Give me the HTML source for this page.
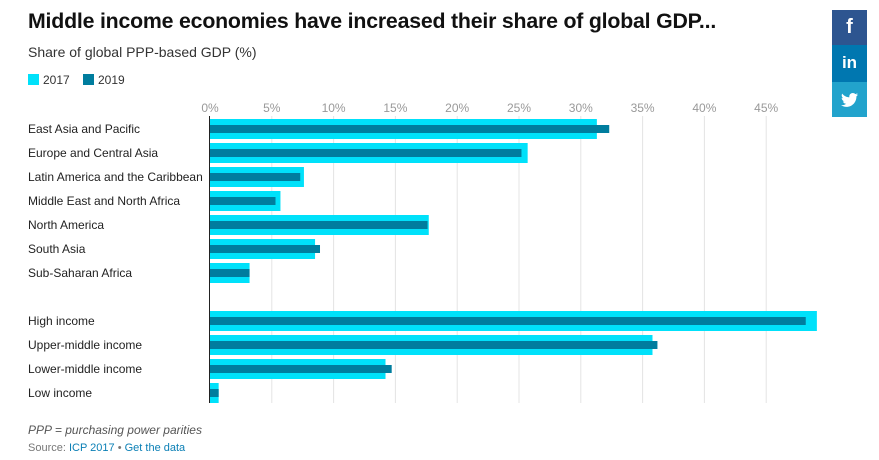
<!DOCTYPE html>
<html><head><meta charset="utf-8"><style>
body{margin:0;width:879px;height:460px;background:#fff;font-family:"Liberation Sans",Arial,sans-serif;overflow:hidden;position:relative}
.t{position:absolute;white-space:nowrap}
</style></head><body>
<div class="t" style="left:28px;top:9px;font-size:21.3px;font-weight:bold;color:#111;letter-spacing:-0.2px">Middle income economies have increased their share of global GDP...</div>
<div class="t" style="left:28px;top:44px;font-size:14px;color:#333">Share of global PPP-based GDP (%)</div>
<div class="t" style="left:28px;top:73px;font-size:12px;color:#333"><span style="display:inline-block;width:11px;height:11px;background:#00e1fa;vertical-align:-1px;margin-right:4px"></span>2017</div>
<div class="t" style="left:83px;top:73px;font-size:12px;color:#333"><span style="display:inline-block;width:11px;height:11px;background:#007d9e;vertical-align:-1px;margin-right:4px"></span>2019</div>
<svg id="c" width="879" height="460" style="position:absolute;left:0;top:0"></svg>
<div class="t" style="left:28px;top:423px;font-size:12px;font-style:italic;color:#555">PPP = purchasing power parities</div>
<div class="t" style="left:28px;top:442px;font-size:11px;color:#777">Source: <span style="color:#0a7fb5">ICP 2017</span> • <span style="color:#0a7fb5">Get the data</span></div>
<div style="position:absolute;left:832px;top:10px;width:35px;height:35px;background:#2d5590;color:#fff;font-weight:bold;font-size:20px;text-align:center;line-height:35px">f</div>
<div style="position:absolute;left:832px;top:45px;width:35px;height:37px;background:#0077b0;color:#fff;font-weight:bold;font-size:17px;text-align:center;line-height:35px">in</div>
<div style="position:absolute;left:832px;top:82px;width:35px;height:35px;background:#22a3cc"><svg width="35" height="35" viewBox="0 0 35 35"><path d="M26 12.5c-.7.3-1.3.5-2 .6.7-.4 1.3-1.1 1.5-1.9-.7.4-1.4.7-2.2.9-.6-.7-1.6-1.1-2.5-1.1-1.9 0-3.5 1.6-3.5 3.5 0 .3 0 .5.1.8-2.9-.1-5.5-1.5-7.2-3.7-.3.5-.5 1.1-.5 1.8 0 1.2.6 2.3 1.6 2.9-.6 0-1.1-.2-1.6-.4 0 1.7 1.2 3.1 2.8 3.4-.5.1-1.1.2-1.6.1.4 1.4 1.7 2.4 3.3 2.4-1.2.9-2.7 1.5-4.4 1.5H9c1.6 1 3.4 1.6 5.4 1.6 6.5 0 10-5.4 10-10v-.5c.7-.5 1.2-1.1 1.6-1.9z" fill="#fff"/></svg></div>
<script>
const categories=["East Asia and Pacific","Europe and Central Asia","Latin America and the Caribbean","Middle East and North Africa","North America","South Asia","Sub-Saharan Africa","","High income","Upper-middle income","Lower-middle income","Low income"];
const values2017=[31.3,25.7,7.6,5.7,17.7,8.5,3.2,null,49.1,35.8,14.2,0.7];
const values2019=[32.3,25.2,7.3,5.3,17.6,8.9,3.2,null,48.2,36.2,14.7,0.7];
const ticks=[0,5,10,15,20,25,30,35,40,45];
const NS="http://www.w3.org/2000/svg",svg=document.getElementById('c');
const x=v=>210+v*12.36, y=i=>119+i*24;
function mk(t,a){const e=document.createElementNS(NS,t);for(const k in a)e.setAttribute(k,a[k]);svg.appendChild(e);return e;}
ticks.forEach(t=>{
 if(t>0){const g=mk('line',{x1:x(t),x2:x(t),y1:116,y2:403,stroke:'#e4e4e4','stroke-width':1});
 
 }
 const l=mk('text',{x:x(t),y:112,'text-anchor':'middle','font-size':12,fill:'#999'});l.textContent=t+'%';
 
 
});
categories.forEach((c,i)=>{
 if(values2017[i]==null)return;
 const l=mk('text',{x:28,y:y(i)+14,'font-size':12,fill:'#222'});l.textContent=c;
 
 
 const a=mk('rect',{x:x(0),y:y(i),width:x(values2017[i])-x(0),height:20,fill:'#00e1fa'});
 
 
 const b=mk('rect',{x:x(0),y:y(i)+6,width:x(values2019[i])-x(0),height:8,fill:'#007d9e'});
 
 
});
const ax=mk('line',{x1:209.5,x2:209.5,y1:116,y2:403,stroke:'#222','stroke-width':1});


</script>
</body></html>
